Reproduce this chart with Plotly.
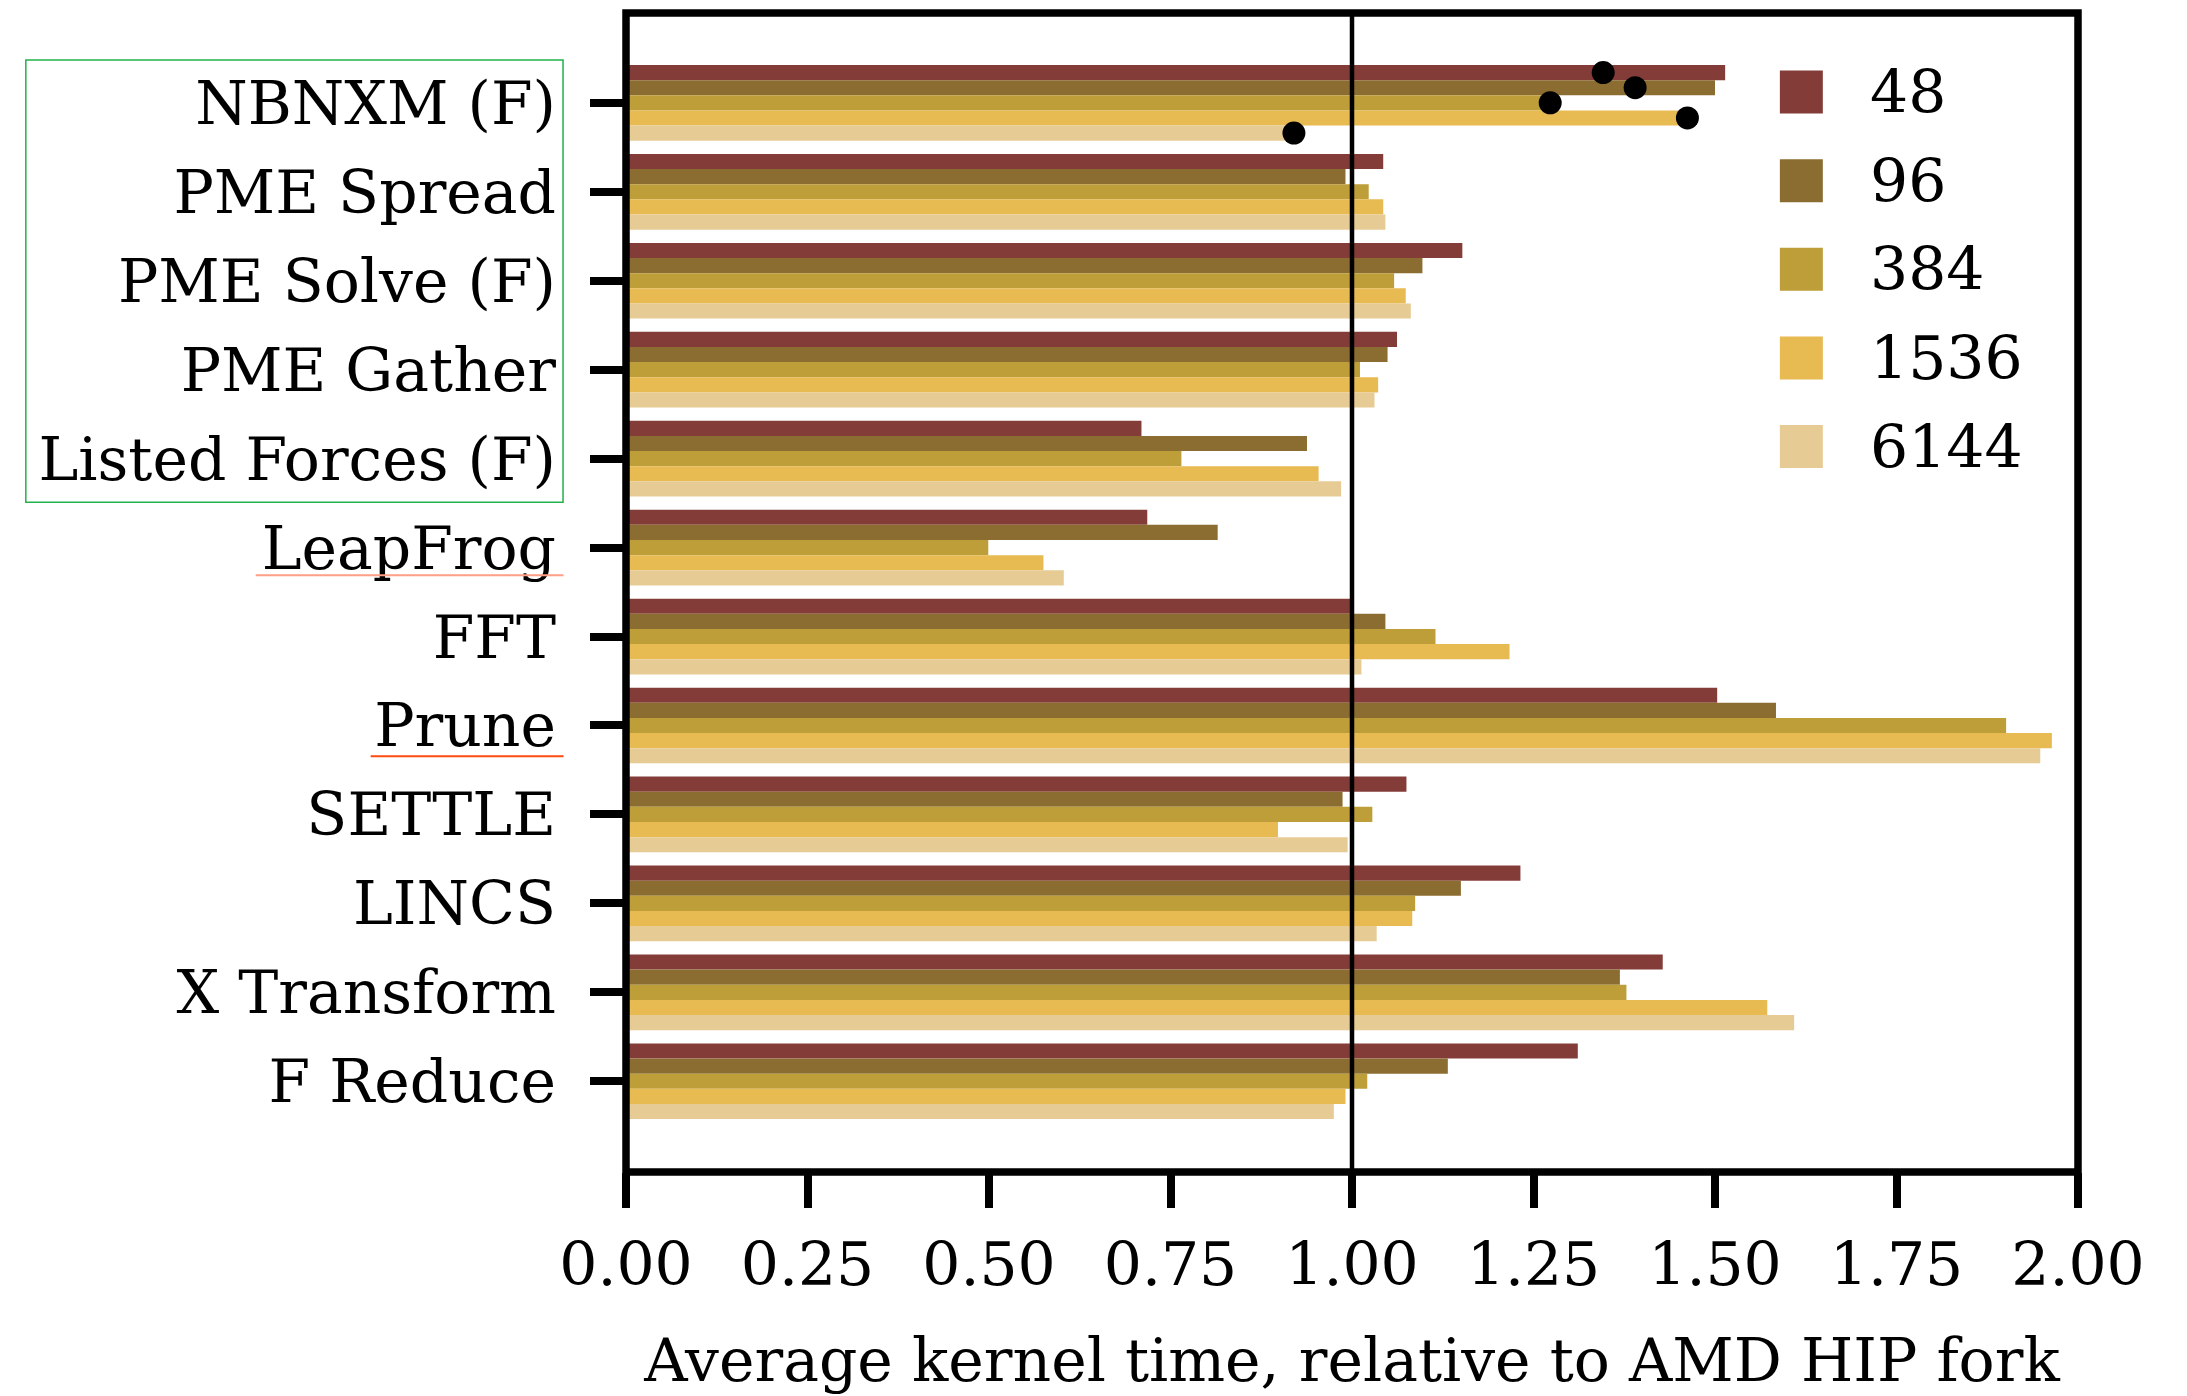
import plotly.graph_objects as go

categories = ["NBNXM (F)", "PME Spread", "PME Solve (F)", "PME Gather", "Listed Forces (F)",
              "LeapFrog", "FFT", "Prune", "SETTLE", "LINCS", "X Transform", "F Reduce"]
series_names = ["48", "96", "384", "1536", "6144"]
colors = ["#843c39", "#8c6d31", "#bd9e39", "#e7ba52", "#e7cb94"]

vals_48 = [1.514, 1.043, 1.152, 1.062, 0.710, 0.718, 1.000, 1.503, 1.075, 1.232, 1.428, 1.311]
vals_96 = [1.500, 0.991, 1.097, 1.049, 0.938, 0.815, 1.046, 1.584, 0.987, 1.150, 1.369, 1.132]
vals_384 = [1.274, 1.023, 1.058, 1.011, 0.765, 0.499, 1.115, 1.901, 1.028, 1.087, 1.378, 1.021]
vals_1536 = [1.462, 1.043, 1.074, 1.036, 0.954, 0.575, 1.217, 1.964, 0.898, 1.083, 1.572, 0.991]
vals_6144 = [0.920, 1.046, 1.081, 1.031, 0.985, 0.603, 1.013, 1.948, 0.994, 1.034, 1.609, 0.975]
series_vals = [vals_48, vals_96, vals_384, vals_1536, vals_6144]

# black dots on the NBNXM (F) group, one per series
dot_category = "NBNXM (F)"
dot_vals = [1.346, 1.390, 1.273, 1.462, 0.920]

x_ticks = [0.0, 0.25, 0.5, 0.75, 1.0, 1.25, 1.5, 1.75, 2.0]
x_title = "Average kernel time, relative to AMD HIP fork"
ref_line = 1.0

FONT = "DejaVu Serif"
FS = 60
W, H = 2187, 1396
OFF = 8  # page body margin
# plot area in page pixels
PL, PR, PT, PB = 625.5, 2078.3, 13, 1171.7
ML = PL - OFF
MT = PT - OFF
MR = W - (PR - OFF)
MB = H - (PB - OFF)
PW, PH = PR - PL, PB - PT
BARGAP = 0.149
n_series = len(series_names)

def px_x(px):
    return (px - PL) / PW

def px_y(py):
    return (PB - py) / PH

fig = go.Figure()
ypos = list(range(len(categories)))
for name, col, vals in zip(series_names, colors, series_vals):
    fig.add_trace(go.Bar(x=vals, y=ypos, orientation="h", name=name,
                         marker=dict(color=col, line=dict(width=0)), showlegend=False))

# dots, aligned with each bar slot of the group
slot = (1 - BARGAP) / n_series
ci = categories.index(dot_category)
for k, (name, v) in enumerate(zip(series_names, dot_vals)):
    yk = ci - (1 - BARGAP) / 2 + (k + 0.5) * slot
    fig.add_trace(go.Scatter(x=[v], y=[yk], mode="markers", showlegend=False,
                             marker=dict(color="black", size=23, line=dict(width=0)),
                             cliponaxis=False, name=name + " marker"))

shapes = []
# reference line at 1.0
shapes.append(dict(type="line", xref="x", yref="paper", x0=ref_line, x1=ref_line, y0=0, y1=1,
                   line=dict(color="black", width=4.5), layer="above"))
# spines
shapes.append(dict(type="rect", xref="paper", yref="paper", x0=0, x1=1, y0=0, y1=1,
                   line=dict(color="black", width=7.5), fillcolor="rgba(0,0,0,0)", layer="above"))
# green box around first labels
shapes.append(dict(type="rect", xref="paper", yref="paper", x0=px_x(25), x1=px_x(562.5),
                   y0=px_y(502), y1=px_y(60), line=dict(color="#22b14c", width=1.5),
                   fillcolor="rgba(0,0,0,0)", layer="above"))
# underlines
shapes.append(dict(type="line", xref="paper", yref="paper", x0=px_x(255), x1=px_x(563),
                   y0=px_y(575), y1=px_y(575), line=dict(color="#ff9f85", width=2)))
shapes.append(dict(type="line", xref="paper", yref="paper", x0=px_x(370), x1=px_x(563),
                   y0=px_y(756), y1=px_y(756), line=dict(color="#ff4a10", width=2)))

annotations = []
# manual legend
for k, (name, col) in enumerate(zip(series_names, colors)):
    cy = 92 + 88.6 * k
    shapes.append(dict(type="rect", xref="paper", yref="paper", x0=px_x(1780), x1=px_x(1823),
                       y0=px_y(cy + 21.5), y1=px_y(cy - 21.5), line=dict(width=0),
                       fillcolor=col, layer="above"))
    annotations.append(dict(xref="paper", yref="paper", x=px_x(1868), y=px_y(cy), text=name,
                            showarrow=False, xanchor="left", yanchor="middle",
                            font=dict(family=FONT, size=FS, color="black")))

fig.update_layout(
    width=W, height=H,
    margin=dict(l=ML, r=MR, t=MT, b=MB, pad=0),
    paper_bgcolor="white", plot_bgcolor="white",
    barmode="group", bargap=BARGAP, bargroupgap=0,
    font=dict(family=FONT, size=FS, color="black"),
    shapes=shapes, annotations=annotations,
    showlegend=False,
)
fig.update_xaxes(range=[0, 2], tickvals=x_ticks, tickformat=".2f", ticks="outside",
                 ticklen=35, tickwidth=8, tickcolor="black", showgrid=False, zeroline=False,
                 showline=False, automargin=False, ticklabelstandoff=5,
                 tickfont=dict(family=FONT, size=FS, color="black"),
                 title=dict(text=x_title, font=dict(family=FONT, size=FS, color="black"), standoff=40))
fig.update_yaxes(range=[12.02, -1.01], tickvals=ypos, ticktext=categories, ticks="outside",
                 ticklen=35, tickwidth=8, tickcolor="black", showgrid=False, zeroline=False,
                 showline=False, automargin=False, ticklabelstandoff=22,
                 tickfont=dict(family=FONT, size=FS, color="black"))

fig.write_html("out.html")
